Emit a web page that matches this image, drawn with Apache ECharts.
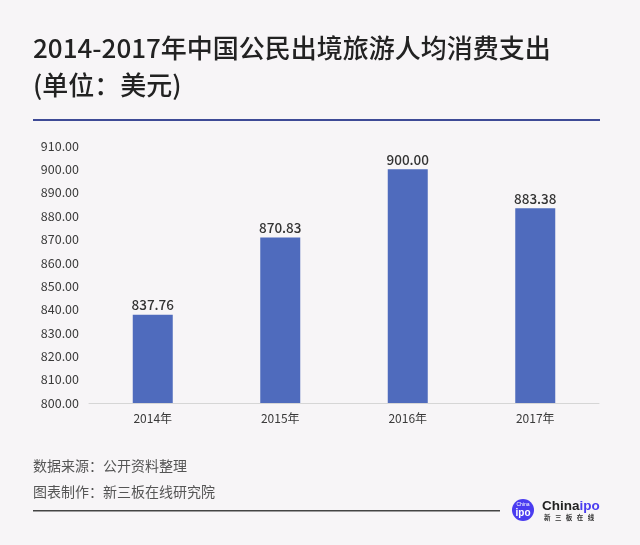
<!DOCTYPE html>
<html><head><meta charset="utf-8">
<script src="https://cdn.jsdelivr.net/npm/echarts@6/dist/echarts.min.js"></script>
<style>html,body{margin:0;padding:0;background:#f7f5f7;}#c{width:640px;height:545px;}</style>
</head><body><div id="c"></div>
<script>
const categories = ['2014年', '2015年', '2016年', '2017年'];
const values = [837.76, 870.83, 900.00, 883.38];
const yMin = 800, yMax = 910, yStep = 10;
const titleLines = ['2014-2017年中国公民出境旅游人均消费支出', '(单位：美元)'];
const footLines = ['数据来源：公开资料整理', '图表制作：新三板在线研究院'];
const FONT = '"Noto Sans CJK SC", "Noto Sans", sans-serif';

const chart = echarts.init(document.getElementById('c'));
chart.setOption({
  backgroundColor: '#f7f5f7',
  animation: false,
  grid: {left: 89, right: 41, top: 146, bottom: 142},
  xAxis: {
    type: 'category', data: categories,
    axisLine: {lineStyle: {color: '#d6d6d6', width: 1}},
    axisTick: {show: false},
    axisLabel: {color: '#3a3a3a', fontSize: 12, fontFamily: FONT, margin: 9}
  },
  yAxis: {
    type: 'value', min: yMin, max: yMax, interval: yStep,
    axisLine: {show: false}, axisTick: {show: false},
    splitLine: {show: false},
    axisLabel: {color: '#3a3a3a', fontSize: 12.5, fontFamily: FONT, margin: 10,
      formatter: v => v.toFixed(2)}
  },
  series: [{
    type: 'bar', data: values, barWidth: 40,
    itemStyle: {color: '#4f6bbd'},
    label: {show: true, position: 'top', distance: 3, color: '#333', fontSize: 13.5,
      fontWeight: 500, fontFamily: FONT, formatter: p => p.value.toFixed(2)}
  }],
  graphic: [
    {type: 'text', left: 33, top: 35, style: {text: titleLines[0], font: '500 26px ' + FONT, fill: '#222'}},
    {type: 'text', left: 33, top: 72, style: {text: titleLines[1], font: '500 26px ' + FONT, fill: '#222'}},
    {type: 'rect', shape: {x: 33, y: 119, width: 567, height: 2}, style: {fill: '#3e4a96'}},
    {type: 'text', left: 33, top: 459, style: {text: footLines[0], font: '14px ' + FONT, fill: '#555'}},
    {type: 'text', left: 33, top: 485, style: {text: footLines[1], font: '14px ' + FONT, fill: '#555'}},
    {type: 'rect', shape: {x: 33, y: 510, width: 467, height: 1.5}, style: {fill: '#444'}},
    {type: 'circle', shape: {cx: 523, cy: 510, r: 11}, style: {fill: '#4a3cf0'}},
    {type: 'text', x: 523, y: 505, style: {text: 'China', font: '5px sans-serif', fill: '#fff', align: 'center', verticalAlign: 'middle'}},
    {type: 'text', x: 523, y: 513, style: {text: 'ipo', font: 'bold 10px sans-serif', fill: '#fff', align: 'center', verticalAlign: 'middle'}},
    {type: 'text', x: 542, y: 506, style: {
      text: '{a|China}{b|ipo}', verticalAlign: 'middle',
      rich: {a: {font: 'bold 13.5px "Liberation Sans", sans-serif', fill: '#222', color: '#222'},
             b: {font: 'bold 13.5px "Liberation Sans", sans-serif', fill: '#4a3cf0', color: '#4a3cf0'}}}},
    {type: 'text', x: 544, y: 518, style: {text: '新   三   板   在   线', font: 'bold 6.5px ' + FONT, fill: '#333', verticalAlign: 'middle'}}
  ]
});
</script></body></html>
